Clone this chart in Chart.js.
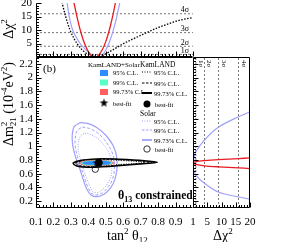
<!DOCTYPE html>
<html>
<head>
<meta charset="utf-8">
<script src="https://cdn.jsdelivr.net/npm/chart.js@4.4.0/dist/chart.umd.min.js"></script>
<style>
  html, body { margin: 0; padding: 0; background: #fff; }
  #wrap { position: relative; width: 287px; height: 242px; }
  #wrap canvas { position: absolute; left: 0; top: 0; }
</style>
</head>
<body>
<div id="wrap">
  <canvas id="topChart" width="287" height="242"></canvas>
  <canvas id="mainChart" width="287" height="242"></canvas>
  <canvas id="sideChart" width="287" height="242"></canvas>
</div>
<script>
// axis ticks
const tanTickVals = [0.1, 0.2, 0.3, 0.4, 0.5, 0.6, 0.7, 0.8, 0.9, 1];
const dm2TickVals = [0.2, 0.4, 0.6, 0.8, 1, 1.2, 1.4, 1.6, 1.8, 2, 2.2];
const chiTopTickVals = [5, 10, 15, 20];
const chiSideTickVals = [0, 5, 10, 15, 20];
const sigmaLevels = [1, 4, 9, 16];
const sigmaLabels = ['1σ', '2σ', '3σ', '4σ'];

// top panel: delta chi2 vs tan2(theta12)
const kamTopTan = [0.245, 0.25, 0.27, 0.295, 0.335, 0.37, 0.40, 0.43, 0.46, 0.50, 0.55, 0.60, 0.65, 0.70, 0.75, 0.80, 0.85, 0.90, 0.95, 1.0];
const kamTopChi = [21.5, 20, 15, 10, 5, 2.3, 0.9, 0.2, 0, 1.2, 3.0, 4.9, 6.5, 8.0, 9.5, 10.9, 12.1, 13.2, 14.0, 14.6];
const solTopTan = [0.268, 0.278, 0.29, 0.31, 0.33, 0.353, 0.38, 0.40, 0.42, 0.44, 0.455, 0.47, 0.50, 0.52, 0.54, 0.56, 0.58, 0.59];
const solTopChi = [22, 20, 15, 10, 7.4, 5, 3.0, 1.8, 0.8, 0.2, 0, 0.1, 2.6, 5.4, 9.2, 14.1, 20, 23.3];
const combTopTan = [0.312, 0.318, 0.34, 0.36, 0.38, 0.40, 0.42, 0.44, 0.46, 0.48, 0.50, 0.52, 0.54, 0.555, 0.562];
const combTopChi = [22, 20, 13.5, 8.5, 4.7, 2.0, 0.4, 0, 0.8, 2.7, 5.7, 9.9, 15.2, 20, 22.5];

// side panel: delta chi2 vs dm2
const combSideDm = [0.665, 0.675, 0.685, 0.70, 0.715, 0.735, 0.755, 0.775, 0.79, 0.805, 0.82, 0.83, 0.835];
const combSideChi = [23, 20, 16, 9, 4, 1, 0, 1, 4, 9, 16, 20, 22];
const solSideDm = [0.21, 0.23, 0.26, 0.33, 0.46, 0.58, 0.66, 0.72, 0.82, 0.92, 1.09, 1.28, 1.43, 1.5, 1.55];
const solSideChi = [24, 20, 16, 9, 4, 1, 0.2, 0, 0.3, 1, 4, 9, 16, 20, 23];

// main panel contours (tan2, dm2)
const sol9973Tan = [0.355, 0.40, 0.45, 0.50, 0.54, 0.56, 0.565, 0.555, 0.53, 0.49, 0.45, 0.415, 0.39, 0.37, 0.35, 0.325, 0.31, 0.308, 0.32, 0.355];
const sol9973Dm = [1.345, 1.33, 1.27, 1.16, 1.02, 0.88, 0.70, 0.54, 0.40, 0.30, 0.265, 0.29, 0.38, 0.52, 0.68, 0.86, 1.02, 1.17, 1.29, 1.345];
const sol99Tan = [0.365, 0.405, 0.45, 0.49, 0.525, 0.545, 0.55, 0.54, 0.515, 0.48, 0.45, 0.42, 0.40, 0.38, 0.36, 0.338, 0.325, 0.325, 0.337, 0.365];
const sol99Dm = [1.28, 1.26, 1.20, 1.10, 0.97, 0.84, 0.68, 0.53, 0.41, 0.32, 0.29, 0.31, 0.39, 0.52, 0.68, 0.85, 0.99, 1.12, 1.23, 1.28];
const sol95Tan = [0.38, 0.41, 0.45, 0.485, 0.515, 0.53, 0.535, 0.525, 0.50, 0.47, 0.45, 0.425, 0.41, 0.39, 0.37, 0.352, 0.342, 0.343, 0.355, 0.38];
const sol95Dm = [1.19, 1.175, 1.12, 1.03, 0.92, 0.80, 0.66, 0.53, 0.42, 0.345, 0.32, 0.34, 0.41, 0.53, 0.68, 0.83, 0.95, 1.06, 1.15, 1.19];

const kam9973Tan = [0.31, 0.33, 0.37, 0.42, 0.48, 0.55, 0.62, 0.69, 0.75, 0.795, 0.75, 0.69, 0.62, 0.55, 0.48, 0.42, 0.37, 0.33, 0.31];
const kam9973Dm = [0.752, 0.778, 0.80, 0.812, 0.818, 0.815, 0.806, 0.794, 0.78, 0.765, 0.752, 0.74, 0.728, 0.712, 0.70, 0.692, 0.697, 0.715, 0.752];
const kam99Tan = [0.325, 0.345, 0.38, 0.43, 0.48, 0.55, 0.62, 0.68, 0.73, 0.765, 0.73, 0.68, 0.62, 0.55, 0.48, 0.43, 0.38, 0.345, 0.325];
const kam99Dm = [0.753, 0.775, 0.794, 0.805, 0.81, 0.807, 0.799, 0.788, 0.776, 0.764, 0.753, 0.743, 0.732, 0.718, 0.707, 0.70, 0.704, 0.72, 0.753];
const kam95Tan = [0.345, 0.36, 0.39, 0.43, 0.48, 0.54, 0.60, 0.66, 0.70, 0.725, 0.70, 0.66, 0.60, 0.54, 0.48, 0.43, 0.39, 0.36, 0.345];
const kam95Dm = [0.754, 0.772, 0.787, 0.797, 0.801, 0.798, 0.791, 0.781, 0.772, 0.763, 0.754, 0.746, 0.737, 0.725, 0.716, 0.71, 0.714, 0.728, 0.754];

const comb9973Tan = [0.345, 0.36, 0.39, 0.43, 0.47, 0.51, 0.535, 0.548, 0.535, 0.51, 0.47, 0.43, 0.39, 0.36, 0.345];
const comb9973Dm = [0.755, 0.775, 0.788, 0.795, 0.795, 0.788, 0.775, 0.758, 0.74, 0.727, 0.718, 0.716, 0.722, 0.735, 0.755];
const comb99Tan = [0.355, 0.37, 0.40, 0.44, 0.48, 0.51, 0.53, 0.538, 0.53, 0.51, 0.48, 0.44, 0.40, 0.37, 0.355];
const comb99Dm = [0.755, 0.772, 0.783, 0.789, 0.789, 0.783, 0.772, 0.758, 0.743, 0.732, 0.724, 0.722, 0.727, 0.738, 0.755];
const comb95Tan = [0.365, 0.38, 0.41, 0.45, 0.485, 0.51, 0.523, 0.528, 0.523, 0.51, 0.485, 0.45, 0.41, 0.38, 0.365];
const comb95Dm = [0.755, 0.77, 0.779, 0.784, 0.784, 0.779, 0.77, 0.758, 0.746, 0.737, 0.73, 0.728, 0.732, 0.741, 0.755];

const bestComb = [0.45, 0.755];
const bestKam = [0.46, 0.76];
const bestSol = [0.44, 0.665];

const serif = '"Liberation Serif", "DejaVu Serif", serif';
const red = 'rgb(232,28,36)';
const lavender = 'rgb(160,160,250)';
const fillRed = 'rgb(255,95,95)';
const fillGreen = 'rgb(90,255,200)';
const fillBlue = 'rgb(45,140,255)';

Chart.defaults.font.family = serif;

const pts = (xs, ys) => xs.map((x, i) => ({x: x, y: ys[i]}));

function curve(data, color, width, dash, extra) {
  return Object.assign({
    data: data, showLine: true, borderColor: color, borderWidth: width,
    borderDash: dash || [], pointRadius: 0, fill: false, tension: 0.35
  }, extra || {});
}
// first entry drawn first (bottom)
function stack(list) {
  return list.map((d, i) => Object.assign(d, {order: list.length - i}));
}

function starImage(r, color) {
  const c = document.createElement('canvas');
  const s = Math.ceil(r * 2 + 2);
  c.width = s; c.height = s;
  const g = c.getContext('2d');
  g.fillStyle = color;
  g.beginPath();
  for (let i = 0; i < 10; i++) {
    const a = -Math.PI / 2 + i * Math.PI / 5;
    const rr = i % 2 ? r * 0.42 : r;
    g.lineTo(s / 2 + rr * Math.cos(a), s / 2 + rr * Math.sin(a));
  }
  g.closePath(); g.fill();
  return c;
}
const star = starImage(4.5, '#000');

// rich text: parts {t, f, dy, b, stay}
function rich(ctx, parts, x, y, align, rot) {
  ctx.save();
  ctx.translate(x, y);
  if (rot) ctx.rotate(rot);
  ctx.fillStyle = '#000';
  ctx.textBaseline = 'alphabetic';
  const fontOf = p => (p.b ? 'bold ' : '') + p.f + 'px ' + serif;
  let w = 0;
  parts.forEach(p => { ctx.font = fontOf(p); if (!p.stay) w += ctx.measureText(p.t).width; });
  let cx = align === 'right' ? -w : (align === 'center' ? -w / 2 : 0);
  parts.forEach(p => {
    ctx.font = fontOf(p);
    ctx.fillText(p.t, cx, p.dy || 0);
    if (!p.stay) cx += ctx.measureText(p.t).width;
  });
  ctx.restore();
}

function range(a, b, step) {
  const out = [];
  for (let v = a; v <= b + 1e-9; v += step) out.push(+v.toFixed(4));
  return out;
}

const frameTicks = {
  id: 'frameTicks',
  afterDatasetsDraw(chart, args, o) {
    const ctx = chart.ctx, a = chart.chartArea;
    const L = Math.round(a.left) + 0.5, R = Math.round(a.right) - 0.5;
    const T = Math.round(a.top) + 0.5, B = Math.round(a.bottom) - 0.5;
    ctx.save();
    ctx.strokeStyle = '#000';
    ctx.lineWidth = 1;
    ctx.setLineDash([]);
    ctx.beginPath();
    (o.edges || []).forEach(e => {
      if (e === 'left') { ctx.moveTo(L, T); ctx.lineTo(L, B); }
      if (e === 'right') { ctx.moveTo(R, T); ctx.lineTo(R, B); }
      if (e === 'top') { ctx.moveTo(L, T); ctx.lineTo(R, T); }
      if (e === 'bottom') { ctx.moveTo(L, B); ctx.lineTo(R, B); }
    });
    (o.ticks || []).forEach(t => {
      const s = chart.scales[t.scale];
      t.vals.forEach(v => {
        const p = Math.round(s.getPixelForValue(v)) + 0.5;
        if (t.side === 'bottom') { ctx.moveTo(p, B); ctx.lineTo(p, B - t.len); }
        if (t.side === 'left') { ctx.moveTo(L, p); ctx.lineTo(L + t.len, p); }
      });
    });
    ctx.stroke();
    ctx.restore();
  }
};

const tanMinor = range(0.12, 0.98, 0.02);
const dmMinor = range(0.12, 2.28, 0.04);

function fixTicks(vals) {
  return s => { s.ticks = vals.map(v => ({value: v})); };
}
function fixWidth(w) {
  return s => { s.width = w; s.paddingTop = 0; s.paddingBottom = 0; };
}
function fixHeight(h) {
  return s => { s.height = h; s.paddingLeft = 0; s.paddingRight = 0; };
}
const tickFont = {family: serif, size: 11};

// ---------------- top panel ----------------
new Chart(document.getElementById('topChart'), {
  type: 'scatter',
  data: {
    datasets: stack([
      ...sigmaLevels.map(l => curve([{x: 0.1, y: l}, {x: 1, y: l}], '#555', 0.8, [2, 2], {tension: 0})),
      curve(pts(kamTopTan, kamTopChi), '#000', 1.3, [1.5, 1.5], {cubicInterpolationMode: 'monotone'}),
      curve(pts(solTopTan, solTopChi), lavender, 1.2, [], {cubicInterpolationMode: 'monotone'}),
      curve(pts(combTopTan, combTopChi), red, 1.3, [], {cubicInterpolationMode: 'monotone'})
    ])
  },
  options: {
    responsive: false, animation: false, events: [],
    layout: {padding: {left: 0, top: 3, right: 94, bottom: 185}},
    scales: {
      x: {type: 'linear', display: false, min: 0.1, max: 1},
      y: {
        type: 'linear', min: 0, max: 20,
        afterBuildTicks: fixTicks(chiTopTickVals), afterFit: fixWidth(36),
        grid: {display: false, drawTicks: false}, border: {display: false},
        ticks: {padding: 4, font: tickFont, color: '#000', autoSkip: false}
      }
    },
    plugins: {
      legend: {display: false}, tooltip: {enabled: false},
      frameTicks: {
        edges: ['left', 'bottom'],
        ticks: [
          {scale: 'y', side: 'left', vals: [0, 5, 10, 15, 20], len: 5},
          {scale: 'y', side: 'left', vals: range(1, 19, 1), len: 2.5},
          {scale: 'x', side: 'bottom', vals: tanTickVals, len: 5},
          {scale: 'x', side: 'bottom', vals: tanMinor, len: 2.5}
        ]
      }
    }
  },
  plugins: [frameTicks, {
    id: 'topText',
    afterDraw(chart) {
      const ctx = chart.ctx, y = chart.scales.y;
      sigmaLevels.forEach((l, i) => {
        rich(ctx, [{t: sigmaLabels[i], f: 8}], 189, y.getPixelForValue(l) - 1.5, 'right');
      });
      rich(ctx, [{t: 'Δχ', f: 14}, {t: '2', f: 9, dy: -6}], 13, 29, 'center', -Math.PI / 2);
    }
  }]
});

// ---------------- main panel ----------------
new Chart(document.getElementById('mainChart'), {
  type: 'scatter',
  data: {
    datasets: stack([
      curve(pts(sol9973Tan, sol9973Dm), lavender, 1.2, []),
      curve(pts(sol99Tan, sol99Dm), lavender, 1, [3, 2]),
      curve(pts(sol95Tan, sol95Dm), lavender, 1, [1, 1.5]),
      curve(pts(kam9973Tan, kam9973Dm), '#000', 1.5, []),
      curve(pts(kam99Tan, kam99Dm), '#000', 1, [2.5, 1.5]),
      curve(pts(kam95Tan, kam95Dm), '#000', 1, [1, 1.5]),
      curve(pts(comb9973Tan, comb9973Dm), fillRed, 0.5, [], {fill: 'shape', backgroundColor: fillRed}),
      curve(pts(comb99Tan, comb99Dm), fillGreen, 0.5, [], {fill: 'shape', backgroundColor: fillGreen}),
      curve(pts(comb95Tan, comb95Dm), fillBlue, 0.5, [], {fill: 'shape', backgroundColor: fillBlue}),
      {data: [{x: bestSol[0], y: bestSol[1]}], pointRadius: 3.2, pointBorderWidth: 0.8,
        pointBackgroundColor: 'rgba(255,255,255,0)', pointBorderColor: '#000', showLine: false},
      {data: [{x: bestKam[0], y: bestKam[1]}], pointRadius: 3.5, pointBackgroundColor: '#000',
        pointBorderColor: '#000', showLine: false},
      {data: [{x: bestComb[0], y: bestComb[1]}], pointStyle: star, showLine: false}
    ])
  },
  options: {
    responsive: false, animation: false, events: [],
    layout: {padding: {left: 0, top: 57, right: 94, bottom: 0}},
    scales: {
      x: {
        type: 'linear', min: 0.1, max: 1,
        afterBuildTicks: fixTicks(tanTickVals), afterFit: fixHeight(34),
        grid: {display: false, drawTicks: false}, border: {display: false},
        ticks: {padding: 8, font: tickFont, color: '#000', autoSkip: false, maxRotation: 0,
          callback: v => String(v)}
      },
      y: {
        type: 'linear', min: 0.1, max: 2.3,
        afterBuildTicks: fixTicks(dm2TickVals), afterFit: fixWidth(36),
        grid: {display: false, drawTicks: false}, border: {display: false},
        ticks: {padding: 3, font: tickFont, color: '#000', autoSkip: false, callback: v => String(v)}
      }
    },
    plugins: {
      legend: {display: false}, tooltip: {enabled: false},
      frameTicks: {
        edges: ['left', 'bottom', 'top'],
        ticks: [
          {scale: 'y', side: 'left', vals: dm2TickVals, len: 5},
          {scale: 'y', side: 'left', vals: dmMinor, len: 2.5},
          {scale: 'x', side: 'bottom', vals: tanTickVals, len: 5},
          {scale: 'x', side: 'bottom', vals: tanMinor, len: 2.5}
        ]
      }
    }
  },
  plugins: [frameTicks, {
    id: 'mainText',
    afterDraw(chart) {
      const ctx = chart.ctx;
      rich(ctx, [{t: '(b)', f: 11}], 43, 72, 'left');
      rich(ctx, [{t: 'θ', f: 12, b: true}, {t: '13', f: 8, dy: 3, b: true}, {t: ' constrained', f: 11.5, b: true}], 118, 199, 'left');
      // axis titles
      rich(ctx, [{t: 'tan', f: 14}, {t: '2', f: 9, dy: -6}, {t: ' θ', f: 14}, {t: '12', f: 9, dy: 3}], 107, 240, 'left');
      rich(ctx, [{t: 'Δm', f: 14}, {t: '2', f: 9, dy: -6, stay: true}, {t: '21', f: 9, dy: 3},
        {t: ' (10', f: 14}, {t: '-4', f: 9, dy: -6}, {t: 'eV', f: 14}, {t: '2', f: 9, dy: -6}, {t: ')', f: 14}],
        13, 62, 'right', -Math.PI / 2);

      // legend
      const lf = 6.5;
      rich(ctx, [{t: 'KamLAND+Solar', f: 7}], 88, 66.5, 'left');
      [[fillBlue, '95% C.L.', 70], [fillGreen, '99% C.L.', 79.5], [fillRed, '99.73% C.L.', 89]].forEach(r => {
        ctx.fillStyle = r[0];
        ctx.fillRect(100, r[2], 8, 6);
        rich(ctx, [{t: r[1], f: lf}], 113, r[2] + 5, 'left');
      });
      ctx.drawImage(star, 104 - star.width / 2, 103 - star.height / 2);
      rich(ctx, [{t: 'best-fit', f: lf}], 113, 105.5, 'left');

      rich(ctx, [{t: 'KamLAND', f: 7.5}], 140, 66.5, 'left');
      const sample = (y, color, w, dash) => {
        ctx.save();
        ctx.strokeStyle = color; ctx.lineWidth = w; ctx.setLineDash(dash);
        ctx.beginPath(); ctx.moveTo(142, y); ctx.lineTo(152, y); ctx.stroke();
        ctx.restore();
      };
      [[72, 1, [1, 1.5], '95% C.L.'], [83, 1.2, [2.5, 1.5], '99% C.L.'], [93, 2, [], '99.73% C.L.']].forEach(r => {
        sample(r[0], '#000', r[1], r[2]);
        rich(ctx, [{t: r[3], f: lf}], 154, r[0] + 2.5, 'left');
      });
      ctx.fillStyle = '#000';
      ctx.beginPath(); ctx.arc(147, 104, 3.5, 0, Math.PI * 2); ctx.fill();
      rich(ctx, [{t: 'best-fit', f: lf}], 155, 106.5, 'left');

      rich(ctx, [{t: 'Solar', f: 7.5}], 140, 115.5, 'left');
      [[121, 1, [1, 1.5], '95% C.L.'], [130, 1.2, [2.5, 1.5], '99% C.L.'], [140, 1.8, [], '99.73% C.L.']].forEach(r => {
        sample(r[0], lavender, r[1], r[2]);
        rich(ctx, [{t: r[3], f: lf}], 154, r[0] + 2.5, 'left');
      });
      ctx.strokeStyle = '#000'; ctx.lineWidth = 0.8;
      ctx.beginPath(); ctx.arc(147, 149, 3.2, 0, Math.PI * 2); ctx.stroke();
      rich(ctx, [{t: 'best-fit', f: lf}], 155, 151.5, 'left');
    }
  }]
});

// ---------------- side panel ----------------
new Chart(document.getElementById('sideChart'), {
  type: 'scatter',
  data: {
    datasets: stack([
      ...sigmaLevels.map(l => curve([{x: l, y: 0.1}, {x: l, y: 2.3}], '#555', 0.8, [2, 2], {tension: 0})),
      curve(pts(solSideChi, solSideDm), lavender, 1.2, [], {tension: 0.3}),
      curve(pts(combSideChi, combSideDm), red, 1.3, [], {tension: 0.3})
    ])
  },
  options: {
    responsive: false, animation: false, events: [],
    layout: {padding: {left: 193, top: 57, right: 37, bottom: 0}},
    scales: {
      x: {
        type: 'linear', min: 0, max: 20,
        afterBuildTicks: fixTicks(chiSideTickVals), afterFit: fixHeight(34),
        grid: {display: false, drawTicks: false}, border: {display: false},
        ticks: {padding: 8, font: tickFont, color: '#000', autoSkip: false, maxRotation: 0,
          callback: v => (v === 0 ? '' : String(v))}
      },
      y: {type: 'linear', display: false, min: 0.1, max: 2.3}
    },
    plugins: {
      legend: {display: false}, tooltip: {enabled: false},
      frameTicks: {
        edges: ['left', 'bottom', 'top', 'right'],
        ticks: [
          {scale: 'y', side: 'left', vals: dm2TickVals, len: 5},
          {scale: 'y', side: 'left', vals: dmMinor, len: 2.5},
          {scale: 'x', side: 'bottom', vals: chiSideTickVals, len: 5},
          {scale: 'x', side: 'bottom', vals: range(1, 19, 1), len: 2.5}
        ]
      }
    }
  },
  plugins: [frameTicks, {
    id: 'sideText',
    afterDraw(chart) {
      const ctx = chart.ctx, x = chart.scales.x;
      sigmaLevels.forEach((l, i) => {
        rich(ctx, [{t: sigmaLabels[i], f: 7}], x.getPixelForValue(l) + 3, 60, 'left', Math.PI / 2);
      });
      rich(ctx, [{t: 'Δχ', f: 14}, {t: '2', f: 9, dy: -6}], 213, 240, 'left');
    }
  }]
});
</script>
</body>
</html>
